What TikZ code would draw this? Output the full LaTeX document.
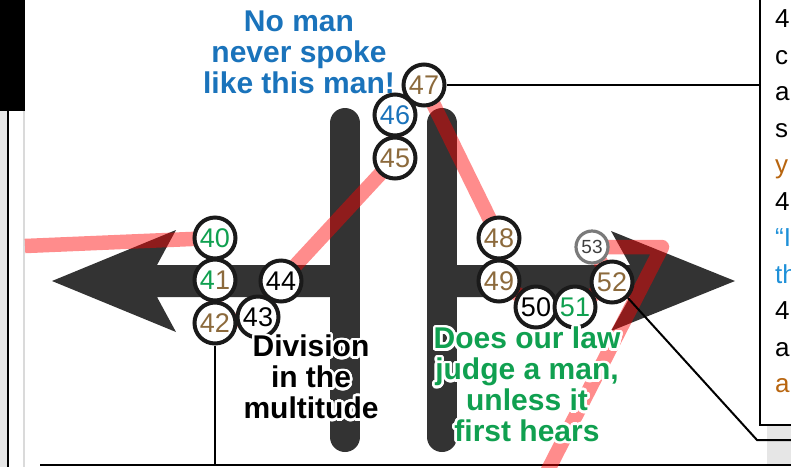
\documentclass[tikz,border=0pt]{standalone}
\usepackage{fontspec}
\setmainfont{Liberation Sans}
\usepackage[copies]{contour}
\contourlength{2.6pt}
\contournumber{28}
\definecolor{barGray}{HTML}{333333}
\definecolor{ringGray}{HTML}{1A1A1A}
\definecolor{cGreen}{HTML}{10A050}
\definecolor{cBrown}{HTML}{8C6A3C}
\definecolor{cBlue}{HTML}{1A73BB}
\definecolor{cSky}{HTML}{1E90D8}
\definecolor{cOrange}{HTML}{B8650F}
\definecolor{stripGray}{HTML}{E6E6E6}
\definecolor{faintGray}{HTML}{DADADA}
\definecolor{halfGray}{HTML}{7A7A7A}
\begin{document}
\begin{tikzpicture}[x=1pt,y=-1pt,
  numc/.style={circle,draw=ringGray,line width=4pt,fill=white,minimum size=41pt,
    inner sep=0pt,font=\fontsize{27}{27}\selectfont},
  numsmall/.style={circle,draw=halfGray,line width=3.2pt,fill=white,minimum size=32pt,
    inner sep=0pt,text=black!75,font=\fontsize{19}{19}\selectfont},
  pinkpath/.style={draw=red,draw opacity=0.45,line width=14.5pt,line join=round},
  darkbar/.style={draw=barGray,line width=30pt,line cap=round},
  linkline/.style={draw=black,line width=2pt},
  lbl/.style={align=center,inner sep=0pt,font=\bfseries\fontsize{30}{30.8}\selectfont},
  coltext/.style={anchor=base west,inner sep=0pt,font=\fontsize{26}{26}\selectfont}]
\clip (0,0) rectangle (791,467);

% left margin strip
\fill[black] (0,0) rectangle (25,111);
\fill[stripGray] (0,111) rectangle (7,467);
\draw[black,line width=2pt] (8,111) -- (8,467);
\draw[faintGray,line width=1.5pt] (24,111) -- (24,467);

% right panel and its text
\fill[stripGray] (767,426) rectangle (791,464);
\draw[black,line width=2.5pt,fill=white] (760,-10) rectangle (800,425);
\node[coltext] (t1) at (775,27.5) {4};
\node[coltext] (t2) at (775,64) {c};
\node[coltext] (t3) at (775,100.5) {a};
\node[coltext] (t4) at (775,137) {s};
\node[coltext,text=cOrange] (t5) at (775,173.5) {y};
\node[coltext] (t6) at (775,210) {4};
\node[coltext,text=cSky] (t7) at (775,246.5) {“I};
\node[coltext,text=cSky] (t8) at (775,283) {th};
\node[coltext] (t9) at (775,319.5) {4};
\node[coltext] (t10) at (775,356) {a};
\node[coltext,text=cOrange] (t11) at (775,392.5) {a};

% bottom rule
\coordinate (bl) at (40,465);
\coordinate (br) at (791,465);
\draw[black,line width=2pt] (bl) -- (br);

% the two vertical bars
\draw[darkbar] (345,123) -- (345,437);
\draw[darkbar] (442,123) -- (442,437);

% left arrow
\fill[barGray] (52,281) -- (176,230) -- (157,265) -- (345,265) -- (345,297)
  -- (157,297) -- (176,332) -- cycle;
% right arrow
\fill[barGray] (735,281) -- (611,231) -- (630,265) -- (442,265) -- (442,297)
  -- (630,297) -- (611,331) -- cycle;

% circle centres
\coordinate (c40) at (215,238);
\coordinate (c41) at (215,280);
\coordinate (c42) at (215,323);
\coordinate (c43) at (258,317);
\coordinate (c44) at (281,281);
\coordinate (c45) at (395,158);
\coordinate (c46) at (395,115);
\coordinate (c47) at (424,85);
\coordinate (c48) at (499,238);
\coordinate (c49) at (499,281);
\coordinate (c50) at (536,307);
\coordinate (c51) at (575,307);
\coordinate (c52) at (612,282);
\coordinate (c53) at (592,247);

% the route through the circles
\coordinate (rs) at (25,246);
\coordinate (rc) at (662,247);
\coordinate (re) at (547,472);
\path[pinkpath] (rs) -- (c40) -- (c41) -- (c42) -- (c43) -- (c44) -- (c45) -- (c46)
  -- (c47) -- (c48) -- (c49) -- (c50) -- (c51) -- (c52) -- (c53) -- (rc) -- (re);

% numbered circles
\node[numc] (n43) at (c43) {43};
\node[numc,text=cGreen] (n40) at (c40) {40};
\node[numc] (n41) at (c41) {\textcolor{cGreen}{4}\textcolor{cBrown}{1}};
\node[numc,text=cBrown] (n42) at (c42) {42};
\node[numc] (n44) at (c44) {44};
\node[numc,text=cBrown] (n45) at (c45) {45};
\node[numc,text=cBlue] (n46) at (c46) {46};
\node[numc,text=cBrown] (n47) at (c47) {47};
\node[numc,text=cBrown] (n48) at (c48) {48};
\node[numc,text=cBrown] (n49) at (c49) {49};
\node[numsmall] (n53) at (c53) {53};
\node[numc] (n50) at (c50) {50};
\node[numc,text=cGreen] (n51) at (c51) {51};
\node[numc,text=cBrown] (n52) at (c52) {52};

% connectors
\coordinate (p47) at (760,85);
\coordinate (k52) at (757,440);
\coordinate (e52) at (791,440);
\draw[linkline] (n47.east) -- (p47);
\draw[linkline] (n52.south east) -- (k52) -- (e52);
\draw[linkline] (n42.south) -- (n42.south |- bl);

% labels
\node[lbl,text=cBlue,anchor=north] (title) at (299,11)
  {No man\\never spoke\\like this man!};
\node[lbl,text=black,anchor=north] (division) at (311,335)
  {\contour{white}{Division}\\\contour{white}{in the}\\\contour{white}{multitude}};
\node[lbl,text=cGreen,anchor=north] (law) at (527,327)
  {\contour{white}{Does our law}\\\contour{white}{judge a man,}\\
   \contour{white}{unless it}\\\contour{white}{first hears}};
\end{tikzpicture}
\end{document}
